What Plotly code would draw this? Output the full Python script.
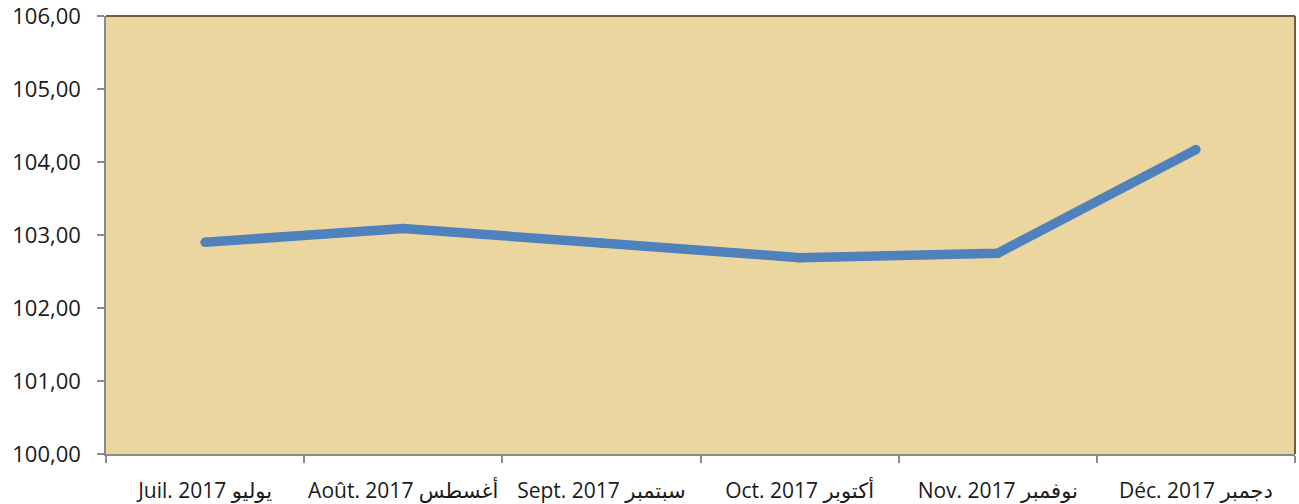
import plotly.graph_objects as go

categories = ["Juil. 2017 يوليو", "Août. 2017 أغسطس", "Sept. 2017 سبتمبر",
              "Oct. 2017 أكتوبر", "Nov. 2017 نوفمبر", "Déc. 2017 دجمبر"]
values = [102.90, 103.09, 102.89, 102.69, 102.75, 104.17]
y_ticks = [100, 101, 102, 103, 104, 105, 106]
y_ticklabels = ["100,00", "101,00", "102,00", "103,00", "104,00", "105,00", "106,00"]

FONT = "Open Sans, DejaVu Sans, sans-serif"

fig = go.Figure()
fig.add_trace(go.Scatter(
    x=categories, y=values, mode="lines+markers",
    line=dict(color="#4F81BD", width=9.5),
    marker=dict(color="#4F81BD", size=9.5, line=dict(width=0)),
    hoverinfo="skip", showlegend=False,
))

fig.update_layout(
    width=1299, height=504,
    margin=dict(l=106, r=4, t=16, b=50),
    paper_bgcolor="white",
    plot_bgcolor="#ECD6A0",
    font=dict(family=FONT, size=20, color="#1a1a1a"),
    showlegend=False,
)
fig.update_xaxes(
    type="category", range=[-0.5, 5.5], automargin=False,
    showgrid=False, zeroline=False,
    showline=True, linecolor="#8a8a8a", linewidth=1.5,
    ticks="outside", tickson="boundaries", ticklen=7, tickcolor="#8a8a8a", tickwidth=1.5,
    tickfont=dict(family=FONT, size=21, color="#1a1a1a"),
    tickangle=0, ticklabeloverflow="allow",
    ticklabelstandoff=17,
)
fig.update_yaxes(
    range=[100, 106], tickvals=y_ticks, ticktext=y_ticklabels, automargin=False,
    showgrid=False, zeroline=False,
    showline=True, linecolor="#8a8a8a", linewidth=1.5,
    ticks="outside", ticklen=7, tickcolor="#8a8a8a", tickwidth=1.5,
    tickfont=dict(family=FONT, size=22, color="#1a1a1a"),
    ticklabeloverflow="allow",
    ticklabelstandoff=12,
)
# top and right frame of the plot picture
fig.add_shape(type="line", xref="paper", yref="paper", x0=0, x1=1, y0=1, y1=1,
              line=dict(color="#6b5e45", width=2))
fig.add_shape(type="line", xref="paper", yref="paper", x0=1, x1=1, y0=0, y1=1,
              line=dict(color="#6b5e45", width=2))

fig.write_html("out.html", config={"displayModeBar": False},
               post_script="document.body.style.margin='0';")
